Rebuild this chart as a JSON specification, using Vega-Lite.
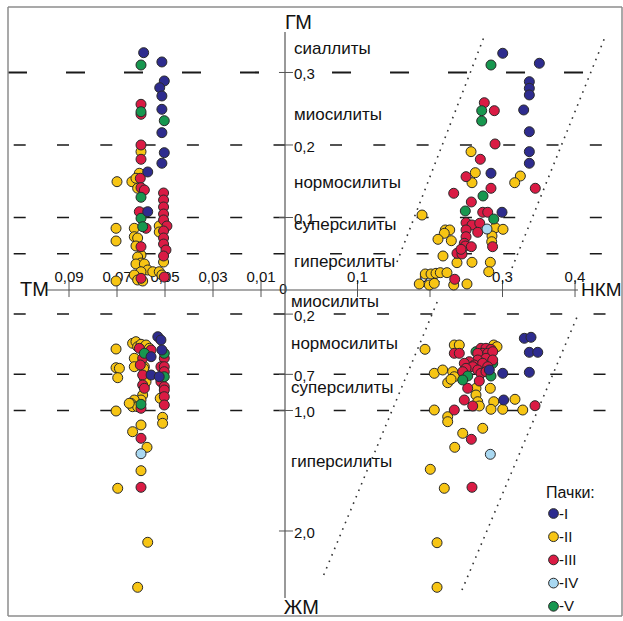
{
  "$schema": "https://vega.github.io/schema/vega-lite/v6.json",
  "autosize": {"type": "pad"},
  "padding": {"left": 6, "top": 6, "right": 0, "bottom": 0},
  "background": "white",
  "config": {
    "view": {"stroke": null},
    "font": "Liberation Sans",
    "text": {"font": "Liberation Sans", "color": "#111"},
    "legend": {"titleFont": "Liberation Sans", "labelFont": "Liberation Sans"}
  },
  "datasets": {
    "tl": [
      {"s":"II","tm":0.0607,"gm":0.161},{"s":"II","tm":0.07,"gm":0.1494},{"s":"II","tm":0.0638,"gm":0.1494},{"s":"II","tm":0.0621,"gm":0.1541},{"s":"II","tm":0.0614,"gm":0.1403},{"s":"II","tm":0.0506,"gm":0.0386},{"s":"II","tm":0.0524,"gm":0.0883},{"s":"II","tm":0.0524,"gm":0.08},{"s":"II","tm":0.0586,"gm":0.1062},{"s":"II","tm":0.0628,"gm":0.0851},{"s":"II","tm":0.0704,"gm":0.0851},{"s":"II","tm":0.0704,"gm":0.0676},{"s":"II","tm":0.0628,"gm":0.0735},{"s":"II","tm":0.0614,"gm":0.0717},{"s":"II","tm":0.0621,"gm":0.0607},{"s":"II","tm":0.06,"gm":0.0483},{"s":"II","tm":0.0614,"gm":0.0455},{"s":"II","tm":0.06,"gm":0.0372},{"s":"II","tm":0.0621,"gm":0.0359},{"s":"II","tm":0.0586,"gm":0.0359},{"s":"II","tm":0.0572,"gm":0.0276},{"s":"II","tm":0.0551,"gm":0.0252},{"s":"II","tm":0.06,"gm":0.0252},{"s":"II","tm":0.0628,"gm":0.0207},{"s":"II","tm":0.0614,"gm":0.0138},{"s":"II","tm":0.0593,"gm":0.0124},{"s":"II","tm":0.0704,"gm":0.0124},{"s":"II","tm":0.0524,"gm":0.0252},{"s":"II","tm":0.0513,"gm":0.0207},{"s":"II","tm":0.06,"gm":0.1908},
      {"s":"III","tm":0.06,"gm":0.2561},{"s":"III","tm":0.06,"gm":0.2423},{"s":"III","tm":0.06,"gm":0.2},{"s":"III","tm":0.06,"gm":0.1803},{"s":"III","tm":0.0603,"gm":0.1541},{"s":"III","tm":0.06,"gm":0.1411},{"s":"III","tm":0.0586,"gm":0.1379},{"s":"III","tm":0.0506,"gm":0.1338},{"s":"III","tm":0.0506,"gm":0.1241},{"s":"III","tm":0.0506,"gm":0.1145},{"s":"III","tm":0.0506,"gm":0.1048},{"s":"III","tm":0.0506,"gm":0.0966},{"s":"III","tm":0.0492,"gm":0.0883},{"s":"III","tm":0.0506,"gm":0.0814},{"s":"III","tm":0.0506,"gm":0.0717},{"s":"III","tm":0.0506,"gm":0.0634},{"s":"III","tm":0.0496,"gm":0.0552},{"s":"III","tm":0.0506,"gm":0.0469},{"s":"III","tm":0.0503,"gm":0.0179},{"s":"III","tm":0.0607,"gm":0.108},{"s":"III","tm":0.0579,"gm":0.0851},{"s":"III","tm":0.06,"gm":0.0597},{"s":"III","tm":0.06,"gm":0.0161},
      {"s":"V","tm":0.06,"gm":0.3103},{"s":"V","tm":0.0503,"gm":0.2335},{"s":"V","tm":0.06,"gm":0.2459},{"s":"V","tm":0.06,"gm":0.1279},{"s":"V","tm":0.06,"gm":0.0989},{"s":"V","tm":0.0593,"gm":0.0873},
      {"s":"I","tm":0.0589,"gm":0.3273},{"s":"I","tm":0.0513,"gm":0.3145},{"s":"I","tm":0.0503,"gm":0.2883},{"s":"I","tm":0.0522,"gm":0.279},{"s":"I","tm":0.0513,"gm":0.2676},{"s":"I","tm":0.0513,"gm":0.2492},{"s":"I","tm":0.0513,"gm":0.217},{"s":"I","tm":0.0503,"gm":0.1894},{"s":"I","tm":0.0513,"gm":0.1748},{"s":"I","tm":0.0572,"gm":0.1628},{"s":"I","tm":0.0572,"gm":0.108}
    ],
    "tr": [
      {"s":"II","nkm":0.2566,"gm":0.1908},{"s":"II","nkm":0.2625,"gm":0.1618},{"s":"II","nkm":0.2579,"gm":0.148},{"s":"II","nkm":0.3246,"gm":0.1572},{"s":"II","nkm":0.3168,"gm":0.148},{"s":"II","nkm":0.189,"gm":0.1034},{"s":"II","nkm":0.2901,"gm":0.0859},{"s":"II","nkm":0.3007,"gm":0.0837},{"s":"II","nkm":0.2211,"gm":0.0828},{"s":"II","nkm":0.2272,"gm":0.0828},{"s":"II","nkm":0.2197,"gm":0.0782},{"s":"II","nkm":0.211,"gm":0.0699},{"s":"II","nkm":0.2294,"gm":0.068},{"s":"II","nkm":0.2855,"gm":0.0745},{"s":"II","nkm":0.2851,"gm":0.0666},{"s":"II","nkm":0.2179,"gm":0.0469},{"s":"II","nkm":0.2372,"gm":0.0377},{"s":"II","nkm":0.2579,"gm":0.0382},{"s":"II","nkm":0.2832,"gm":0.0382},{"s":"II","nkm":0.281,"gm":0.0252},{"s":"II","nkm":0.1852,"gm":0.0083},{"s":"II","nkm":0.199,"gm":0.0069},{"s":"II","nkm":0.2059,"gm":0.0092},{"s":"II","nkm":0.1935,"gm":0.0221},{"s":"II","nkm":0.2014,"gm":0.0221},{"s":"II","nkm":0.2083,"gm":0.023},{"s":"II","nkm":0.2142,"gm":0.0239},{"s":"II","nkm":0.2234,"gm":0.0239},{"s":"II","nkm":0.2327,"gm":0.0069},{"s":"II","nkm":0.251,"gm":0.0083},
      {"s":"III","nkm":0.2749,"gm":0.2583},{"s":"III","nkm":0.2887,"gm":0.2473},{"s":"III","nkm":0.2897,"gm":0.2014},{"s":"III","nkm":0.2694,"gm":0.1803},{"s":"III","nkm":0.2497,"gm":0.1563},{"s":"III","nkm":0.2841,"gm":0.1403},{"s":"III","nkm":0.2327,"gm":0.1334},{"s":"III","nkm":0.3452,"gm":0.1403},{"s":"III","nkm":0.257,"gm":0.1214},{"s":"III","nkm":0.2727,"gm":0.1072},{"s":"III","nkm":0.2796,"gm":0.1072},{"s":"III","nkm":0.2497,"gm":0.0928},{"s":"III","nkm":0.2579,"gm":0.0897},{"s":"III","nkm":0.2686,"gm":0.092},{"s":"III","nkm":0.2497,"gm":0.0828},{"s":"III","nkm":0.2658,"gm":0.0796},{"s":"III","nkm":0.2497,"gm":0.0735},{"s":"III","nkm":0.2473,"gm":0.0644},{"s":"III","nkm":0.2487,"gm":0.0607},{"s":"III","nkm":0.257,"gm":0.0597},{"s":"III","nkm":0.2863,"gm":0.0597},{"s":"III","nkm":0.2372,"gm":0.0506},{"s":"III","nkm":0.2441,"gm":0.0497},{"s":"III","nkm":0.2428,"gm":0.0561},{"s":"III","nkm":0.2341,"gm":0.0148},
      {"s":"V","nkm":0.2841,"gm":0.3103},{"s":"V","nkm":0.2713,"gm":0.2473},{"s":"V","nkm":0.2713,"gm":0.2331},{"s":"V","nkm":0.2731,"gm":0.1297},{"s":"V","nkm":0.2487,"gm":0.109},{"s":"V","nkm":0.2879,"gm":0.0979},
      {"s":"IV","nkm":0.2786,"gm":0.0841},
      {"s":"I","nkm":0.3003,"gm":0.3265},{"s":"I","nkm":0.3508,"gm":0.3127},{"s":"I","nkm":0.337,"gm":0.2873},{"s":"I","nkm":0.337,"gm":0.2782},{"s":"I","nkm":0.337,"gm":0.269},{"s":"I","nkm":0.3292,"gm":0.2483},{"s":"I","nkm":0.337,"gm":0.2183},{"s":"I","nkm":0.337,"gm":0.1908},{"s":"I","nkm":0.337,"gm":0.1748},{"s":"I","nkm":0.2841,"gm":0.161},{"s":"I","nkm":0.2993,"gm":0.1072}
    ],
    "bl": [
      {"s":"II","tm":0.0704,"zhm":0.4896},{"s":"II","tm":0.0635,"zhm":0.4423},{"s":"II","tm":0.0621,"zhm":0.429},{"s":"II","tm":0.0614,"zhm":0.4705},{"s":"II","tm":0.06,"zhm":0.4506},{"s":"II","tm":0.0579,"zhm":0.4564},{"s":"II","tm":0.0565,"zhm":0.4838},{"s":"II","tm":0.0628,"zhm":0.5668},{"s":"II","tm":0.0704,"zhm":0.6448},{"s":"II","tm":0.069,"zhm":0.65},{"s":"II","tm":0.0697,"zhm":0.7278},{"s":"II","tm":0.0628,"zhm":0.6365},{"s":"II","tm":0.0586,"zhm":0.6365},{"s":"II","tm":0.0586,"zhm":0.7328},{"s":"II","tm":0.0586,"zhm":0.7884},{"s":"II","tm":0.0579,"zhm":0.761},{"s":"II","tm":0.0593,"zhm":0.8714},{"s":"II","tm":0.06,"zhm":0.9129},{"s":"II","tm":0.0628,"zhm":0.9129},{"s":"II","tm":0.0642,"zhm":0.9402},{"s":"II","tm":0.0635,"zhm":0.9685},{"s":"II","tm":0.0614,"zhm":0.9685},{"s":"II","tm":0.0649,"zhm":0.9402},{"s":"II","tm":0.0704,"zhm":1.0041},{"s":"II","tm":0.051,"zhm":0.8855},{"s":"II","tm":0.052,"zhm":0.8988},{"s":"II","tm":0.051,"zhm":1.0564},{"s":"II","tm":0.051,"zhm":1.1062},{"s":"II","tm":0.06,"zhm":1.1203},{"s":"II","tm":0.0635,"zhm":1.1759},{"s":"II","tm":0.0575,"zhm":1.3054},{"s":"II","tm":0.06,"zhm":1.4996},{"s":"II","tm":0.0697,"zhm":1.6456},{"s":"II","tm":0.0572,"zhm":2.0938},{"s":"II","tm":0.0614,"zhm":2.4672},{"s":"II","tm":0.0589,"zhm":0.6498},
      {"s":"III","tm":0.0607,"zhm":0.4838},{"s":"III","tm":0.0558,"zhm":0.4979},{"s":"III","tm":0.0593,"zhm":0.5668},{"s":"III","tm":0.0503,"zhm":0.5668},{"s":"III","tm":0.0603,"zhm":0.6224},{"s":"III","tm":0.0517,"zhm":0.6365},{"s":"III","tm":0.0503,"zhm":0.6365},{"s":"III","tm":0.0503,"zhm":0.678},{"s":"III","tm":0.0593,"zhm":0.7054},{"s":"III","tm":0.0517,"zhm":0.761},{"s":"III","tm":0.0503,"zhm":0.8025},{"s":"III","tm":0.0593,"zhm":0.7884},{"s":"III","tm":0.0586,"zhm":0.8158},{"s":"III","tm":0.06,"zhm":0.9817},{"s":"III","tm":0.0503,"zhm":0.8299},{"s":"III","tm":0.0503,"zhm":0.8855},{"s":"III","tm":0.0503,"zhm":0.9544},{"s":"III","tm":0.06,"zhm":1.2307},{"s":"III","tm":0.06,"zhm":1.6373},
      {"s":"V","tm":0.0586,"zhm":0.5253},{"s":"V","tm":0.0503,"zhm":0.5253},{"s":"V","tm":0.0503,"zhm":0.7195},{"s":"V","tm":0.06,"zhm":0.9486},
      {"s":"I","tm":0.053,"zhm":0.3876},{"s":"I","tm":0.0517,"zhm":0.4149},{"s":"I","tm":0.0513,"zhm":0.4979},{"s":"I","tm":0.0558,"zhm":0.5535},{"s":"I","tm":0.0558,"zhm":0.7054},{"s":"I","tm":0.0524,"zhm":0.7195},
      {"s":"IV","tm":0.06,"zhm":1.3585}
    ],
    "br": [
      {"s":"II","nkm":0.1931,"zhm":0.4921},{"s":"II","nkm":0.2335,"zhm":0.4564},{"s":"II","nkm":0.2404,"zhm":0.4564},{"s":"II","nkm":0.2879,"zhm":0.4564},{"s":"II","nkm":0.2924,"zhm":0.4705},{"s":"II","nkm":0.2059,"zhm":0.6913},{"s":"II","nkm":0.2175,"zhm":0.6639},{"s":"II","nkm":0.2313,"zhm":0.678},{"s":"II","nkm":0.2335,"zhm":0.7195},{"s":"II","nkm":0.2244,"zhm":0.7693},{"s":"II","nkm":0.229,"zhm":0.7411},{"s":"II","nkm":0.2832,"zhm":0.8158},{"s":"II","nkm":0.2634,"zhm":0.8158},{"s":"II","nkm":0.2634,"zhm":0.8714},{"s":"II","nkm":0.2658,"zhm":0.927},{"s":"II","nkm":0.268,"zhm":0.9627},{"s":"II","nkm":0.2879,"zhm":0.927},{"s":"II","nkm":0.3172,"zhm":0.9071},{"s":"II","nkm":0.2841,"zhm":0.99},{"s":"II","nkm":0.3003,"zhm":0.99},{"s":"II","nkm":0.3279,"zhm":0.9959},{"s":"II","nkm":0.2059,"zhm":0.9959},{"s":"II","nkm":0.2244,"zhm":1.0515},{"s":"II","nkm":0.2244,"zhm":1.0929},{"s":"II","nkm":0.2727,"zhm":1.1477},{"s":"II","nkm":0.2451,"zhm":1.1892},{"s":"II","nkm":0.2341,"zhm":1.3054},{"s":"II","nkm":0.2004,"zhm":1.488},{"s":"II","nkm":0.2197,"zhm":1.6456},{"s":"II","nkm":0.2097,"zhm":2.0971},{"s":"II","nkm":0.2097,"zhm":2.4672},
      {"s":"V","nkm":0.2634,"zhm":0.512},{"s":"V","nkm":0.2703,"zhm":0.5394},{"s":"V","nkm":0.2865,"zhm":0.6083},
      {"s":"III","nkm":0.2335,"zhm":0.5253},{"s":"III","nkm":0.2404,"zhm":0.5253},{"s":"III","nkm":0.2703,"zhm":0.4838},{"s":"III","nkm":0.2772,"zhm":0.4838},{"s":"III","nkm":0.2841,"zhm":0.4921},{"s":"III","nkm":0.2727,"zhm":0.5253},{"s":"III","nkm":0.2796,"zhm":0.5253},{"s":"III","nkm":0.2865,"zhm":0.512},{"s":"III","nkm":0.2658,"zhm":0.5253},{"s":"III","nkm":0.2772,"zhm":0.5668},{"s":"III","nkm":0.2865,"zhm":0.5809},{"s":"III","nkm":0.2658,"zhm":0.5809},{"s":"III","nkm":0.2542,"zhm":0.595},{"s":"III","nkm":0.2473,"zhm":0.6083},{"s":"III","nkm":0.2611,"zhm":0.6224},{"s":"III","nkm":0.2727,"zhm":0.6083},{"s":"III","nkm":0.2589,"zhm":0.6365},{"s":"III","nkm":0.2658,"zhm":0.6639},{"s":"III","nkm":0.2497,"zhm":0.6498},{"s":"III","nkm":0.2451,"zhm":0.678},{"s":"III","nkm":0.2796,"zhm":0.6365},{"s":"III","nkm":0.2703,"zhm":0.6913},{"s":"III","nkm":0.2772,"zhm":0.678},{"s":"III","nkm":0.268,"zhm":0.7552},{"s":"III","nkm":0.252,"zhm":0.8158},{"s":"III","nkm":0.2473,"zhm":0.9129},{"s":"III","nkm":0.2589,"zhm":0.9627},{"s":"III","nkm":0.3448,"zhm":0.9602},{"s":"III","nkm":0.2335,"zhm":0.9959},{"s":"III","nkm":0.257,"zhm":1.239},{"s":"III","nkm":0.2579,"zhm":1.6373},
      {"s":"V","nkm":0.252,"zhm":0.7137},{"s":"V","nkm":0.2451,"zhm":0.7469},{"s":"V","nkm":0.2841,"zhm":0.7137},
      {"s":"I","nkm":0.3301,"zhm":0.4008},{"s":"I","nkm":0.3393,"zhm":0.3925},{"s":"I","nkm":0.337,"zhm":0.517},{"s":"I","nkm":0.3486,"zhm":0.517},{"s":"I","nkm":0.337,"zhm":0.683},{"s":"I","nkm":0.3003,"zhm":0.6913},{"s":"I","nkm":0.2818,"zhm":0.6639},{"s":"I","nkm":0.3016,"zhm":0.9129},
      {"s":"IV","nkm":0.2832,"zhm":1.3635}
    ]
  },
  "columns": 2,
  "spacing": 0,
  "bounds": "flush",
  "align": "each",
  "resolve": {"scale": {"x": "independent", "y": "independent", "color": "shared"}},
  "concat": [
        {
          "width": 277, "height": 283,
          "encoding": {
            "x": {"field": "tm", "type": "quantitative", "scale": {"domain": [0, 0.11542], "reverse": true, "nice": false, "zero": false}, "axis": null},
            "y": {"field": "gm", "type": "quantitative", "scale": {"domain": [0, 0.3903], "nice": false, "zero": false}, "axis": null}
          },
          "layer": [
            {"data": {"values": [{"tm": 0.11542, "tm2": 0, "gm": 0.3}]}, "mark": {"type": "rule", "strokeDash": [19, 39], "strokeWidth": 2.2, "color": "#1a1a1a"}, "encoding": {"x2": {"field": "tm2"}}},
            {"data": {"values": [{"tm": 0.11542, "tm2": 0, "gm": 0.2}, {"tm": 0.11542, "tm2": 0, "gm": 0.1}, {"tm": 0.11542, "tm2": 0, "gm": 0.05}]}, "mark": {"type": "rule", "strokeDash": [12, 31.3], "strokeDashOffset": 37.6, "strokeWidth": 1.5, "color": "#1a1a1a"}, "encoding": {"x2": {"field": "tm2"}}},
            {"data": {"values": [{"tm": 0.11542, "tm2": 0, "gm": 0.3903, "gm2": 0.3903}, {"tm": 0.11542, "tm2": 0.11542, "gm": 0, "gm2": 0.3903}]}, "mark": {"type": "rule", "strokeWidth": 1.5, "color": "#8c8c8c"}, "encoding": {"x2": {"field": "tm2"}, "y2": {"field": "gm2"}}},
            {"data": {"values": [{"tm": 0.0996, "tm2": 0, "gm": 0, "gm2": 0}]}, "mark": {"type": "rule", "strokeWidth": 1.2, "color": "#555"}, "encoding": {"x2": {"field": "tm2"}, "y2": {"field": "gm2"}}},
            {"data": {"values": [{"tm": 0.01, "gm": 0.0138, "gm2": -0.0097}, {"tm": 0.03, "gm": 0.0138, "gm2": -0.0097}, {"tm": 0.05, "gm": 0.0138, "gm2": -0.0097}, {"tm": 0.07, "gm": 0.0138, "gm2": -0.0097}, {"tm": 0.09, "gm": 0.0138, "gm2": -0.0097}]}, "mark": {"type": "rule", "strokeWidth": 1, "color": "#555"}, "encoding": {"y2": {"field": "gm2"}}},
            {"data": {"values": [{"tm": 0.01, "gm": 0.011, "label": "0,01"}, {"tm": 0.03, "gm": 0.011, "label": "0,03"}, {"tm": 0.05, "gm": 0.011, "label": "0,05"}, {"tm": 0.07, "gm": 0.011, "label": "0,07"}, {"tm": 0.09, "gm": 0.011, "label": "0,09"}]}, "mark": {"type": "text", "align": "center", "baseline": "alphabetic", "fontSize": 15}, "encoding": {"text": {"field": "label"}}},
            {"data": {"values": [{"tm": 0.0008, "gm": 0, "label": "0"}]}, "mark": {"type": "text", "align": "center", "baseline": "middle", "fontSize": 14}, "encoding": {"text": {"field": "label"}}},
            {"data": {"values": [{"tm": 0.1104, "gm": 0, "label": "ТМ"}]}, "mark": {"type": "text", "align": "left", "baseline": "middle", "fontSize": 20}, "encoding": {"text": {"field": "label"}}},
            {"data": {"name": "tl"}, "mark": {"type": "circle", "size": 100, "opacity": 1, "stroke": "#2a2a2a", "strokeWidth": 1},
             "encoding": {"color": {"field": "s", "type": "nominal", "title": "Пачки:", "scale": {"domain": ["I", "II", "III", "IV", "V"], "range": ["#2E2C8E", "#F7C514", "#DA1B44", "#A9D8F1", "#17974F"]},
               "legend": {"orient": "none", "legendX": 538, "legendY": 478, "titleFontSize": 16, "titleFontWeight": "normal", "titleColor": "#111", "titlePadding": 5, "labelFontSize": 15, "labelColor": "#111", "labelOffset": -2, "rowPadding": 7.2, "symbolSize": 95, "symbolStrokeColor": "#2a2a2a", "symbolStrokeWidth": 1, "symbolType": "circle", "labelExpr": "'-' + datum.label"}}}}
          ]
        },
        {
          "width": 337, "height": 283,
          "encoding": {
            "x": {"field": "nkm", "type": "quantitative", "scale": {"domain": [0, 0.4648], "nice": false, "zero": false}, "axis": null},
            "y": {"field": "gm", "type": "quantitative", "scale": {"domain": [0, 0.3903], "nice": false, "zero": false}, "axis": null}
          },
          "layer": [
            {"data": {"values": [{"nkm": 0.045, "nkm2": 0.4648, "gm": 0.3}]}, "mark": {"type": "rule", "strokeDash": [19, 39], "strokeDashOffset": 43.6, "strokeWidth": 2.2, "color": "#1a1a1a"}, "encoding": {"x2": {"field": "nkm2"}}},
            {"data": {"values": [{"nkm": 0.045, "nkm2": 0.4648, "gm": 0.2}, {"nkm": 0.045, "nkm2": 0.4648, "gm": 0.1}, {"nkm": 0.045, "nkm2": 0.4648, "gm": 0.05}]}, "mark": {"type": "rule", "strokeDash": [12, 31.3], "strokeDashOffset": 30.9, "strokeWidth": 1.5, "color": "#1a1a1a"}, "encoding": {"x2": {"field": "nkm2"}}},
            {"data": {"values": [{"id": 1, "nkm": 0.2745, "gm": 0.349}, {"id": 1, "nkm": 0.1545, "gm": 0.0386}, {"id": 2, "nkm": 0.4414, "gm": 0.349}, {"id": 2, "nkm": 0.3131, "gm": 0.0303}]}, "mark": {"type": "line", "strokeDash": [1.6, 5.4], "strokeWidth": 1.6, "color": "#333"}, "encoding": {"detail": {"field": "id"}}},
            {"data": {"values": [{"nkm": 0, "nkm2": 0.4648, "gm": 0.3903, "gm2": 0.3903}, {"nkm": 0.4648, "nkm2": 0.4648, "gm": 0, "gm2": 0.3903}]}, "mark": {"type": "rule", "strokeWidth": 1.5, "color": "#8c8c8c"}, "encoding": {"x2": {"field": "nkm2"}, "y2": {"field": "gm2"}}},
            {"data": {"values": [{"nkm": 0, "nkm2": 0.4041, "gm": 0, "gm2": 0}, {"nkm": 0, "nkm2": 0, "gm": 0, "gm2": 0.3559}]}, "mark": {"type": "rule", "strokeWidth": 1.2, "color": "#555"}, "encoding": {"x2": {"field": "nkm2"}, "y2": {"field": "gm2"}}},
            {"data": {"values": [{"nkm": 0.1, "gm": 0.0138, "gm2": -0.0097}, {"nkm": 0.2, "gm": 0.0138, "gm2": -0.0097}, {"nkm": 0.3, "gm": 0.0138, "gm2": -0.0097}, {"nkm": 0.4, "gm": 0.0138, "gm2": -0.0097}]}, "mark": {"type": "rule", "strokeWidth": 1, "color": "#555"}, "encoding": {"y2": {"field": "gm2"}}},
            {"data": {"values": [{"nkm": -0.0083, "nkm2": 0.011, "gm": 0.3}, {"nkm": -0.0083, "nkm2": 0.011, "gm": 0.2}, {"nkm": -0.0083, "nkm2": 0.011, "gm": 0.1}]}, "mark": {"type": "rule", "strokeWidth": 1, "color": "#555"}, "encoding": {"x2": {"field": "nkm2"}}},
            {"data": {"values": [{"nkm": 0.1, "gm": 0.011, "label": "0,1"}, {"nkm": 0.2, "gm": 0.011, "label": "0,2"}, {"nkm": 0.3, "gm": 0.011, "label": "0,3"}, {"nkm": 0.4, "gm": 0.011, "label": "0,4"}]}, "mark": {"type": "text", "align": "center", "baseline": "alphabetic", "fontSize": 15}, "encoding": {"text": {"field": "label"}}},
            {"data": {"values": [{"nkm": 0.0124, "gm": 0.3, "label": "0,3"}, {"nkm": 0.0124, "gm": 0.2, "label": "0,2"}, {"nkm": 0.0124, "gm": 0.1, "label": "0,1"}]}, "mark": {"type": "text", "align": "left", "baseline": "middle", "dy": 2, "fontSize": 15}, "encoding": {"text": {"field": "label"}}},
            {"data": {"values": [{"nkm": 0.0124, "gm": 0.3255, "label": "сиаллиты"}, {"nkm": 0.0124, "gm": 0.2345, "label": "миосилиты"}, {"nkm": 0.0124, "gm": 0.14, "label": "нормосилиты"}, {"nkm": 0.0124, "gm": 0.0828, "label": "суперсилиты"}, {"nkm": 0.0124, "gm": 0.0317, "label": "гиперсилиты"}]}, "mark": {"type": "text", "align": "left", "baseline": "alphabetic", "fontSize": 17}, "encoding": {"text": {"field": "label"}}},
            {"data": {"values": [{"nkm": 0, "gm": 0.3593, "label": "ГМ"}]}, "mark": {"type": "text", "align": "left", "baseline": "alphabetic", "fontSize": 20}, "encoding": {"text": {"field": "label"}}},
            {"data": {"values": [{"nkm": 0.4083, "gm": 0, "label": "НКМ"}]}, "mark": {"type": "text", "align": "left", "baseline": "middle", "fontSize": 19}, "encoding": {"text": {"field": "label"}}},
            {"data": {"name": "tr"}, "mark": {"type": "circle", "size": 100, "opacity": 1, "stroke": "#2a2a2a", "strokeWidth": 1},
             "encoding": {"color": {"field": "s", "type": "nominal", "title": "Пачки:", "scale": {"domain": ["I", "II", "III", "IV", "V"], "range": ["#2E2C8E", "#F7C514", "#DA1B44", "#A9D8F1", "#17974F"]}}}}
          ]
        },
        {
          "width": 277, "height": 326,
          "encoding": {
            "x": {"field": "tm", "type": "quantitative", "scale": {"domain": [0, 0.11542], "reverse": true, "nice": false, "zero": false}, "axis": null},
            "y": {"field": "zhm", "type": "quantitative", "scale": {"domain": [0, 2.7054], "reverse": true, "nice": false, "zero": false}, "axis": null}
          },
          "layer": [
            {"data": {"values": [{"tm": 0.11542, "tm2": 0, "zhm": 0.2}, {"tm": 0.11542, "tm2": 0, "zhm": 0.7}, {"tm": 0.11542, "tm2": 0, "zhm": 1.0}]}, "mark": {"type": "rule", "strokeDash": [12, 31.3], "strokeDashOffset": 37.6, "strokeWidth": 1.5, "color": "#1a1a1a"}, "encoding": {"x2": {"field": "tm2"}}},
            {"data": {"values": [{"tm": 0.11542, "tm2": 0.11542, "zhm": 0, "zhm2": 2.7054}, {"tm": 0.11542, "tm2": 0, "zhm": 2.7054, "zhm2": 2.7054}]}, "mark": {"type": "rule", "strokeWidth": 1.5, "color": "#8c8c8c"}, "encoding": {"x2": {"field": "tm2"}, "y2": {"field": "zhm2"}}},
            {"data": {"name": "bl"}, "mark": {"type": "circle", "size": 100, "opacity": 1, "stroke": "#2a2a2a", "strokeWidth": 1},
             "encoding": {"color": {"field": "s", "type": "nominal", "title": "Пачки:", "scale": {"domain": ["I", "II", "III", "IV", "V"], "range": ["#2E2C8E", "#F7C514", "#DA1B44", "#A9D8F1", "#17974F"]}}}}
          ]
        },
        {
          "width": 337, "height": 326,
          "encoding": {
            "x": {"field": "nkm", "type": "quantitative", "scale": {"domain": [0, 0.4648], "nice": false, "zero": false}, "axis": null},
            "y": {"field": "zhm", "type": "quantitative", "scale": {"domain": [0, 2.7054], "reverse": true, "nice": false, "zero": false}, "axis": null}
          },
          "layer": [
            {"data": {"values": [{"nkm": 0.045, "nkm2": 0.4648, "zhm": 0.2}, {"nkm": 0.045, "nkm2": 0.4648, "zhm": 0.7}, {"nkm": 0.045, "nkm2": 0.4648, "zhm": 1.0}]}, "mark": {"type": "rule", "strokeDash": [12, 31.3], "strokeDashOffset": 27.2, "strokeWidth": 1.5, "color": "#1a1a1a"}, "encoding": {"x2": {"field": "nkm2"}}},
            {"data": {"values": [{"id": 3, "nkm": 0.211, "zhm": 0.083}, {"id": 3, "nkm": 0.0534, "zhm": 2.365}, {"id": 4, "nkm": 0.4051, "zhm": 0.1909}, {"id": 4, "nkm": 0.2441, "zhm": 2.49}]}, "mark": {"type": "line", "strokeDash": [1.6, 5.4], "strokeWidth": 1.6, "color": "#333"}, "encoding": {"detail": {"field": "id"}}},
            {"data": {"values": [{"nkm": 0.4648, "nkm2": 0.4648, "zhm": 0, "zhm2": 2.7054}, {"nkm": 0, "nkm2": 0.4648, "zhm": 2.7054, "zhm2": 2.7054}]}, "mark": {"type": "rule", "strokeWidth": 1.5, "color": "#8c8c8c"}, "encoding": {"x2": {"field": "nkm2"}, "y2": {"field": "zhm2"}}},
            {"data": {"values": [{"nkm": 0, "nkm2": 0, "zhm": 0, "zhm2": 2.556}]}, "mark": {"type": "rule", "strokeWidth": 1.2, "color": "#555"}, "encoding": {"x2": {"field": "nkm2"}, "y2": {"field": "zhm2"}}},
            {"data": {"values": [{"nkm": -0.0083, "nkm2": 0.011, "zhm": 0.2}, {"nkm": -0.0083, "nkm2": 0.011, "zhm": 0.7}, {"nkm": -0.0083, "nkm2": 0.011, "zhm": 1.0}, {"nkm": -0.0083, "nkm2": 0.011, "zhm": 2.0}]}, "mark": {"type": "rule", "strokeWidth": 1, "color": "#555"}, "encoding": {"x2": {"field": "nkm2"}}},
            {"data": {"values": [{"nkm": 0.0124, "zhm": 0.2, "label": "0,2"}, {"nkm": 0.0124, "zhm": 0.7, "label": "0,7"}, {"nkm": 0.0124, "zhm": 1.0, "label": "1,0"}, {"nkm": 0.0124, "zhm": 2.0, "label": "2,0"}]}, "mark": {"type": "text", "align": "left", "baseline": "middle", "dy": 2, "fontSize": 15}, "encoding": {"text": {"field": "label"}}},
            {"data": {"values": [{"nkm": 0.0083, "zhm": 0.1411, "label": "миосилиты"}, {"nkm": 0.0083, "zhm": 0.4896, "label": "нормосилиты"}, {"nkm": 0.0083, "zhm": 0.8548, "label": "суперсилиты"}, {"nkm": 0.0083, "zhm": 1.4664, "label": "гиперсилиты"}]}, "mark": {"type": "text", "align": "left", "baseline": "alphabetic", "fontSize": 17}, "encoding": {"text": {"field": "label"}}},
            {"data": {"values": [{"nkm": -0.0017, "zhm": 2.689, "label": "ЖМ"}]}, "mark": {"type": "text", "align": "left", "baseline": "alphabetic", "fontSize": 20}, "encoding": {"text": {"field": "label"}}},
            {"data": {"name": "br"}, "mark": {"type": "circle", "size": 100, "opacity": 1, "stroke": "#2a2a2a", "strokeWidth": 1},
             "encoding": {"color": {"field": "s", "type": "nominal", "title": "Пачки:", "scale": {"domain": ["I", "II", "III", "IV", "V"], "range": ["#2E2C8E", "#F7C514", "#DA1B44", "#A9D8F1", "#17974F"]}}}}
          ]
        }
  ]
}
